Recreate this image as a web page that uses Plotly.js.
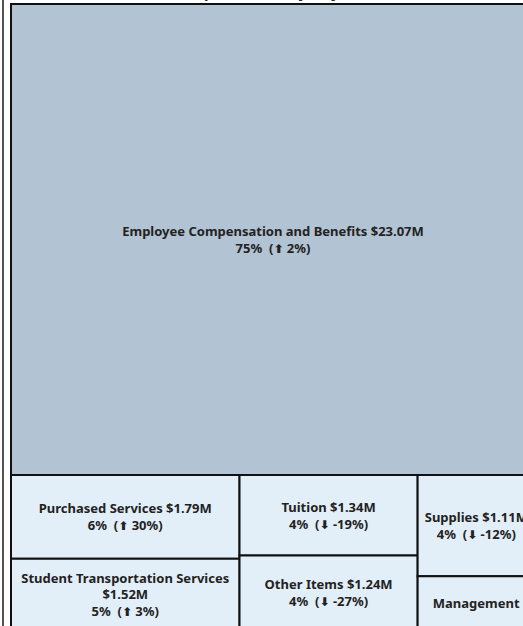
<!DOCTYPE html>
<html>
<head>
<meta charset="utf-8">
<script src="https://cdn.plot.ly/plotly-3.0.1.min.js"></script>
<style>
  html, body { margin: 0; padding: 0; overflow: hidden; background: #fff; width: 523px; height: 626px; }
  #frame { position: absolute; left: 2px; top: 0; width: 2px; height: 100%; background: #555; z-index: 5; }
  #chart { position: absolute; left: 0; top: 0; }
</style>
</head>
<body>
<div id="frame"></div>
<div id="chart"></div>
<script>
// ---- data ----
const categories = ['Employee Compensation and Benefits', 'Purchased Services', 'Student Transportation Services',
                    'Tuition', 'Other Items', 'Supplies', 'Management'];
const amounts = [23.07, 1.79, 1.52, 1.34, 1.24, 1.11, 0.59];   // $M
const shares  = [75, 6, 5, 4, 4, 4, 2];                         // % of total
const changes = [2, 30, 3, -19, -27, -12, null];                // % change vs prior year
const wrapName = [false, false, true, false, false, false, false];
// layout groups (Tableau-style arrangement)
const groupNames   = ['Other Objects', 'Col A', 'Col B', 'Col C'];
const groupParents = ['', 'Other Objects', 'Other Objects', 'Other Objects'];
const catParents   = ['', 'Col A', 'Col A', 'Col B', 'Col B', 'Col C', 'Col C'];
const titleText = 'Expenditures by Object';

const DARK = '#b2c3d3', LIGHT = '#e2eff8';

function arrow(c) {
  const g = c >= 0 ? '⬆' : '⬇';
  return '<span style="font-family:DejaVu Sans;font-size:12px">' + g + '</span>';
}
function labelFor(i) {
  const name = categories[i];
  if (changes[i] === null) return name;
  const amt = '$' + amounts[i].toFixed(2) + 'M';
  const second = shares[i] + '%  (' + arrow(changes[i]) + ' ' + changes[i] + '%)';
  if (wrapName[i]) return name + '<br>' + amt + '<br>' + second;
  return name + ' ' + amt + '<br>' + second;
}

const labels = [], parents = [], values = [], texts = [], colors = [];
groupNames.forEach((g, i) => {
  labels.push(g); parents.push(groupParents[i]); values.push(0); texts.push(''); colors.push(LIGHT);
});
categories.forEach((c, i) => {
  labels.push(c); parents.push(catParents[i]); values.push(amounts[i]); texts.push(labelFor(i));
  colors.push(i === 0 ? DARK : LIGHT);
});

const trace = {
  type: 'treemap',
  labels: labels,
  parents: parents,
  values: values,
  text: texts,
  textinfo: 'text',
  branchvalues: 'remainder',
  sort: true,
  tiling: { packing: 'dice-slice', pad: 0 },
  marker: {
    colors: colors,
    depthfade: false,
    line: { color: '#111', width: 2 },
    pad: { t: 0, l: 0, r: 0, b: 0 }
  },
  pathbar: { visible: false },
  textposition: 'middle center',
  textfont: { family: 'Noto Sans, DejaVu Sans, sans-serif', size: 13, color: '#222', weight: 'bold' },
  hoverinfo: 'label+value'
};

const layout = {
  width: 600,
  height: 720,
  margin: { l: 11, r: 65, t: 4, b: 90 },
  paper_bgcolor: '#fff',
  showlegend: false,
  annotations: [{
    text: titleText,
    xref: 'paper', yref: 'paper', x: 0.5, y: 1,
    xanchor: 'center', yanchor: 'bottom',
    showarrow: false,
    font: { family: 'Noto Sans, sans-serif', size: 15, color: '#222', weight: 'bold' }
  }]
};

Plotly.newPlot('chart', [trace], layout, { displayModeBar: false, staticPlot: true });
</script>
</body>
</html>
